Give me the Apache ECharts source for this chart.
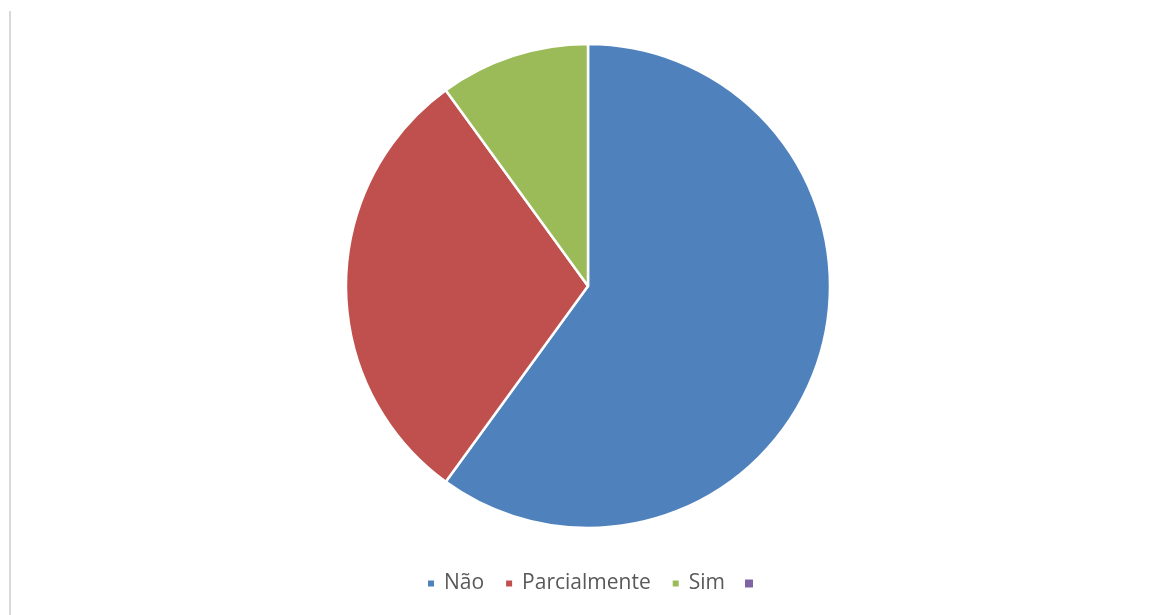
<!DOCTYPE html>
<html>
<head>
<meta charset="utf-8">
<script src="https://cdn.jsdelivr.net/npm/echarts@6/dist/echarts.min.js"></script>
<style>
  html, body { margin: 0; padding: 0; background: #ffffff; }
  #chart { width: 1154px; height: 615px; }
</style>
</head>
<body>
<div id="chart"></div>
<script>
// Answer categories and their shares (%)
const categories = ['Não', 'Parcialmente', 'Sim', ' '];
const values = [60, 30, 10, 0];
const colors = ['#4F81BD', '#C0504D', '#9BBB59', '#8064A2'];

const chart = echarts.init(document.getElementById('chart'));

const pieData = categories.map((name, i) => ({
  name: name,
  value: values[i],
  itemStyle: { color: colors[i], borderWidth: values[i] > 0 ? 2.5 : 0 }
}));

chart.setOption({
  animation: false,
  backgroundColor: '#ffffff',
  graphic: [{
    type: 'rect',
    shape: { x: 9, y: 11, width: 2, height: 604 },
    style: { fill: '#d9d9d9' },
    silent: true
  }],
  legend: {
    data: categories,
    top: 568,
    left: 421,
    icon: 'rect',
    itemWidth: 8,
    itemHeight: 8,
    itemGap: 20,
    selectedMode: false,
    textStyle: {
      color: '#595959', fontSize: 21, fontFamily: 'Open Sans',
      padding: [0, 0, 0, 4]
    }
  },
  series: [{
    type: 'pie',
    center: [588, 286],
    radius: 242,
    startAngle: 90,
    clockwise: true,
    label: { show: false },
    labelLine: { show: false },
    emphasis: { disabled: true },
    itemStyle: { borderColor: '#ffffff', borderWidth: 2.5 },
    data: pieData
  }]
});
</script>
</body>
</html>
